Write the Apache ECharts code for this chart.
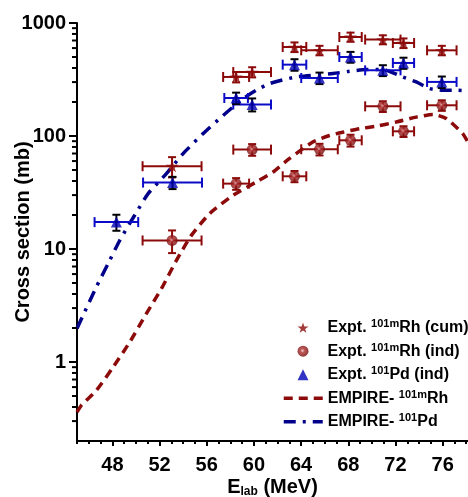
<!DOCTYPE html>
<html><head><meta charset="utf-8">
<script src="https://cdn.jsdelivr.net/npm/echarts@6/dist/echarts.min.js"></script>
<style>html,body{margin:0;padding:0;background:#fff}#c{width:468px;height:497px}</style>
</head><body><div id="c"></div><script>
// ---- tick labels ----
const xTickLabels = [48, 52, 56, 60, 64, 68, 72, 76];
const xMinorTicks = [45,46,47,48,49,50,51,52,53,54,55,56,57,58,59,60,61,62,63,64,65,66,67,68,69,70,71,72,73,74,75,76,77,78];
const yTickLabels = [1, 10, 100, 1000];
const yMinorTicks = [0.3,0.4,0.5,0.6,0.7,0.8,0.9,2,3,4,5,6,7,8,9,20,30,40,50,60,70,80,90,200,300,400,500,600,700,800,900];

// ---- Expt. 101mRh (cum) ----
const E_cum = [53.06, 58.49, 59.85, 63.44, 65.56, 68.19, 70.93, 72.68, 75.93];
const dE_cum = [2.5, 1.1, 1.6, 1.0, 1.55, 0.95, 1.5, 0.9, 1.25];
const sig_cum = [54, 333, 368, 613, 573, 752, 713, 665, 573];
const dsig_cum = [11, 35, 38, 60, 55, 70, 65, 65, 55];

// ---- Expt. 101mRh (ind) ----
const E_ind = [53.06, 58.49, 59.85, 63.44, 65.56, 68.19, 70.93, 72.68, 75.93];
const dE_ind = [2.5, 1.1, 1.6, 1.0, 1.55, 0.95, 1.5, 0.9, 1.25];
const sig_ind = [11.9, 37.9, 75.8, 44, 76.3, 91.6, 183, 110, 187];
const dsig_ind = [2.7, 4.5, 9, 5, 9, 11, 20, 12, 20];

// ---- Expt. 101Pd (ind) ----
const E_pd = [48.34, 53.1, 58.49, 59.85, 63.44, 65.56, 68.19, 70.93, 72.68, 75.93];
const dE_pd = [1.85, 2.5, 1.0, 1.6, 1.0, 1.55, 0.95, 1.5, 0.9, 1.25];
const sig_pd = [17.3, 38.7, 217, 190, 428, 326, 500, 381, 443, 301];
const dsig_pd = [2.8, 4.8, 25, 25, 50, 38, 55, 42, 50, 35];

// ---- EMPIRE-101mRh ----
const E_empRh = [45.0, 45.37, 46.64, 48.06, 49.47, 50.88, 52.16, 53.43, 54.7, 56.25, 58.24, 60.2, 61.63, 63.0, 64.99, 66.4, 67.53, 68.95, 70.37, 72.06, 73.76, 75.17, 76.3, 77.7, 78.15];
const sig_empRh = [0.36, 0.414, 0.56, 0.90, 1.50, 2.68, 4.46, 7.94, 13.2, 20.6, 29.9, 39.2, 48, 63, 88.5, 101, 108, 116, 122, 133, 147, 155, 143, 105, 88];

// ---- EMPIRE-101Pd ----
const E_empPd = [45.0, 46.64, 47.64, 48.62, 49.89, 51.03, 52.58, 54.0, 55.69, 57.39, 59.09, 60.2, 61.32, 63.58, 66.7, 68.1, 69.5, 70.93, 72.63, 73.76, 74.9, 76.0, 77.15, 78.15];
const sig_empPd = [1.98, 4.61, 7.43, 11.9, 19.9, 30.9, 46.5, 69.9, 105, 152, 214, 254, 291, 333, 357, 374, 387, 387, 333, 301, 263, 254, 254, 251];

const RED = '#8c0a0a', BLUE = '#0c0cc8', NAVY = '#00008b';
const FONT = '"Liberation Sans", Arial, sans-serif';
const RH_DASH = [9, 6], PD_DASH = [12, 7, 3, 7];

const names = ['Expt. 101mRh (cum)', 'Expt. 101mRh (ind)', 'Expt. 101Pd (ind)', 'EMPIRE- 101mRh', 'EMPIRE- 101Pd'];
const richNames = {
  'Expt. 101mRh (cum)': '{g|}Expt. {s|101m}Rh (cum)',
  'Expt. 101mRh (ind)': '{g|}Expt. {s|101m}Rh (ind)',
  'Expt. 101Pd (ind)': '{g|}Expt. {s|101}Pd (ind)',
  'EMPIRE- 101mRh': 'EMPIRE- {s|101m}Rh',
  'EMPIRE- 101Pd': 'EMPIRE- {s|101}Pd'
};

function xErr(E, S, dE, color) {
  return {
    type: 'custom', z: 3, silent: true,
    data: E.map((e, i) => [e, S[i], dE[i]]),
    encode: { x: 0, y: 1 },
    renderItem: (params, api) => {
      const x = api.value(0), y = api.value(1), d = api.value(2);
      const p1 = api.coord([x - d, y]), p2 = api.coord([x + d, y]);
      const c = 5, st = { stroke: color, lineWidth: 2 };
      return { type: 'group', children: [
        { type: 'line', shape: { x1: p1[0], y1: p1[1], x2: p2[0], y2: p2[1] }, style: st },
        { type: 'line', shape: { x1: p1[0], y1: p1[1] - c, x2: p1[0], y2: p1[1] + c }, style: st },
        { type: 'line', shape: { x1: p2[0], y1: p2[1] - c, x2: p2[0], y2: p2[1] + c }, style: st }
      ]};
    }
  };
}
function yErr(E, S, dS, color) {
  return {
    type: 'custom', z: 3, silent: true,
    data: E.map((e, i) => [e, S[i], dS[i]]),
    encode: { x: 0, y: 1 },
    renderItem: (params, api) => {
      const x = api.value(0), y = api.value(1), d = api.value(2);
      const p1 = api.coord([x, y - d]), p2 = api.coord([x, y + d]);
      const c = 4, st = { stroke: color, lineWidth: 2 };
      return { type: 'group', children: [
        { type: 'line', shape: { x1: p1[0], y1: p1[1], x2: p2[0], y2: p2[1] }, style: st },
        { type: 'line', shape: { x1: p1[0] - c, y1: p1[1], x2: p1[0] + c, y2: p1[1] }, style: st },
        { type: 'line', shape: { x1: p2[0] - c, y1: p2[1], x2: p2[0] + c, y2: p2[1] }, style: st }
      ]};
    }
  };
}

const STAR = 'path://M50,0 L61.8,35.1 L98.1,35.1 L68.8,56.7 L79.4,90.5 L50,69.5 L20.6,90.5 L31.2,56.7 L1.9,35.1 L38.2,35.1 Z';
const sphere = new echarts.graphic.RadialGradient(0.45, 0.45, 0.6, [
  { offset: 0, color: '#f0c8c8' }, { offset: 0.3, color: '#b03030' }, { offset: 1, color: '#6a0000' }
]);

const legendText = { fontSize: 16, fontWeight: 'bold', color: '#000', fontFamily: FONT, lineHeight: 18,
  rich: {
    s: { fontSize: 11, fontWeight: 'bold', color: '#000', fontFamily: FONT, verticalAlign: 'top', lineHeight: 18 },
    g: { width: 14, fontSize: 16, lineHeight: 18 }
  } };

const chart = echarts.init(document.getElementById('c'), null, { renderer: 'canvas' });
chart.setOption({
  animation: false,
  backgroundColor: '#fff',
  textStyle: { fontFamily: FONT },
  grid: { left: 77, right: 0, top: 23, bottom: 56, containLabel: false, outerBoundsMode: 'none' },
  xAxis: [{
    type: 'value', min: 45, max: 78.15, position: 'bottom',
    axisLine: { show: true, lineStyle: { color: '#000', width: 2 } },
    axisTick: { show: true, customValues: xTickLabels, length: 5, lineStyle: { color: '#000', width: 2 } },
    axisLabel: { customValues: xTickLabels, margin: 14, color: '#000', fontSize: 20, fontWeight: 'bold', fontFamily: FONT },
    splitLine: { show: false },
    name: '{a|E}{b|lab}{a| (MeV)}', nameLocation: 'middle', nameGap: 35, nameMoveOverlap: false,
    nameTextStyle: { rich: {
      a: { fontSize: 20, fontWeight: 'bold', color: '#000', fontFamily: FONT, lineHeight: 22 },
      b: { fontSize: 12, fontWeight: 'bold', color: '#000', fontFamily: FONT, verticalAlign: 'bottom', lineHeight: 14 }
    } }
  }, {
    type: 'value', min: 45, max: 78.15, position: 'bottom',
    axisLine: { show: false },
    axisTick: { show: true, customValues: xMinorTicks, length: 3, lineStyle: { color: '#000', width: 2 } },
    axisLabel: { show: false }, splitLine: { show: false }
  }],
  yAxis: [{
    type: 'log', logBase: 10, min: 0.2, max: 1000, position: 'left',
    axisLine: { show: true, lineStyle: { color: '#000', width: 2 } },
    axisTick: { show: true, customValues: yTickLabels, length: 8, lineStyle: { color: '#000', width: 2 } },
    axisLabel: { customValues: yTickLabels, margin: 11, color: '#000', fontSize: 20, fontWeight: 'bold', fontFamily: FONT,
      formatter: v => String(Math.round(v)) },
    splitLine: { show: false }, minorTick: { show: false },
    name: 'Cross section (mb)', nameLocation: 'middle', nameGap: 44, nameMoveOverlap: false,
    nameTextStyle: { fontSize: 20, fontWeight: 'bold', color: '#000', fontFamily: FONT }
  }],
  legend: [{
    orient: 'vertical', left: 292.5, top: 313.7, itemWidth: 11, itemHeight: 11, itemGap: 5.5,
    data: names.slice(0, 3),
    formatter: n => richNames[n],
    textStyle: legendText
  }, {
    orient: 'vertical', left: 277, top: 384.3, itemWidth: 39, itemHeight: 14, itemGap: 5.5,
    data: [
      { name: names[3], itemStyle: { opacity: 0 }, lineStyle: { width: 3.5, type: RH_DASH, color: RED } },
      { name: names[4], itemStyle: { opacity: 0 }, lineStyle: { width: 3.5, type: PD_DASH, color: NAVY } }
    ],
    formatter: n => richNames[n],
    textStyle: legendText
  }],
  series: [
    { name: names[3], type: 'line', z: 2, symbol: 'none', smooth: 0.2,
      data: E_empRh.map((e, i) => [e, sig_empRh[i]]),
      lineStyle: { color: RED, width: 3.5, type: RH_DASH }, itemStyle: { color: RED } },
    { name: names[4], type: 'line', z: 2, symbol: 'none', smooth: 0.2,
      data: E_empPd.map((e, i) => [e, sig_empPd[i]]),
      lineStyle: { color: NAVY, width: 3.5, type: PD_DASH }, itemStyle: { color: NAVY } },
    { type: 'custom', z: 3, silent: true, clip: false,
      data: yMinorTicks.map(v => [45, v]),
      encode: { x: 0, y: 1 },
      renderItem: (params, api) => {
        const p = api.coord([api.value(0), api.value(1)]);
        return { type: 'line', shape: { x1: p[0] - 5, y1: p[1], x2: p[0], y2: p[1] }, style: { stroke: '#000', lineWidth: 2 } };
      } },
    xErr(E_cum, sig_cum, dE_cum, RED),
    yErr(E_cum, sig_cum, dsig_cum, RED),
    xErr(E_ind, sig_ind, dE_ind, RED),
    yErr(E_ind, sig_ind, dsig_ind, RED),
    xErr(E_pd, sig_pd, dE_pd, BLUE),
    yErr(E_pd, sig_pd, dsig_pd, '#000'),
    { name: names[0], type: 'scatter', z: 4, symbol: STAR, symbolSize: 13, symbolKeepAspect: true,
      data: E_cum.map((e, i) => [e, sig_cum[i]]), itemStyle: { color: RED } },
    { name: names[1], type: 'scatter', z: 4, symbol: 'circle', symbolSize: 11,
      data: E_ind.map((e, i) => [e, sig_ind[i]]), itemStyle: { color: sphere } },
    { name: names[2], type: 'scatter', z: 4, symbol: 'triangle', symbolSize: 11, symbolKeepAspect: true,
      data: E_pd.map((e, i) => [e, sig_pd[i]]), itemStyle: { color: '#0000b4' } }
  ]
});
</script></body></html>
